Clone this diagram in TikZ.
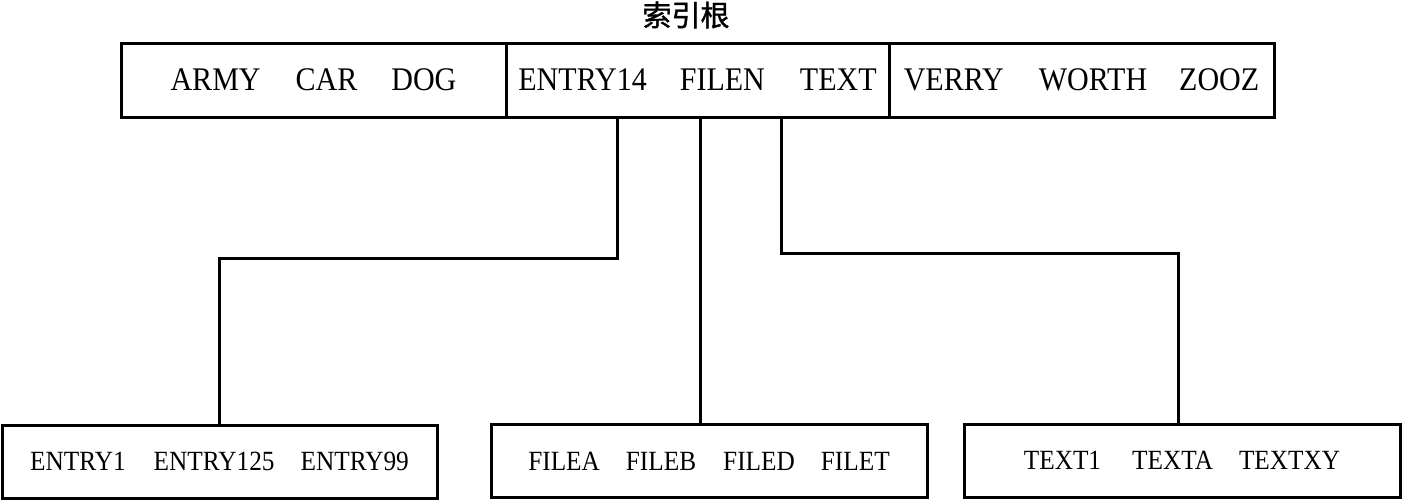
\documentclass[tikz,border=0pt]{standalone}
\usepackage{fontspec}
\setmainfont{Liberation Serif}[FakeStretch=0.91]
\newfontfamily\cjk{Noto Sans CJK SC}[FakeBold=1.2]
\begin{document}
\begin{tikzpicture}[x=1pt,y=-1pt,
  line width=3pt,
  sect/.style={draw, minimum height=74pt, inner sep=0pt, font=\fontsize{33}{33}\selectfont},
  leaf/.style={draw, minimum width=435pt, minimum height=73pt, inner sep=0pt, font=\fontsize{27.8}{27.8}\selectfont},
  conn/.style={line width=3pt}]
\useasboundingbox (0,0) rectangle (1403,501);
\node[font=\cjk\fontsize{29}{29}\selectfont] (title) at (686,15) {索引根};
\node[sect, minimum width=385pt] (s1) at (313.5,80) {ARMY\hspace{35pt}CAR\hspace{34pt}DOG};
\node[sect, minimum width=383pt] (s2) at (697.5,80) {ENTRY14\hspace{33pt}FILEN\hspace{35pt}TEXT};
\node[sect, minimum width=385pt] (s3) at (1081.5,80) {VERRY\hspace{35pt}WORTH\hspace{32pt}ZOOZ};
\node[leaf] (b1) at (219.5,461.5) {ENTRY1\hspace{28pt}ENTRY125\hspace{26pt}ENTRY99};
\node[leaf, minimum width=436pt] (b2) at (709,461) {FILEA\hspace{26pt}FILEB\hspace{27pt}FILED\hspace{26pt}FILET};
\node[leaf, minimum width=436pt] (b3) at (1182,460.5) {TEXT1\hspace{31pt}TEXTA\hspace{26pt}TEXTXY};
\draw[conn] ([xshift=-80.5pt]s2.south) -- ++(0,140) -| ([xshift=-0.5pt]b1.north);
\draw[conn] ([xshift=2.5pt]s2.south) -- ([xshift=2.5pt]s2.south |- b2.north);
\draw[conn] ([xshift=83.5pt]s2.south) -- ++(0,135) -| ([xshift=-4pt]b3.north);
\end{tikzpicture}
\end{document}
